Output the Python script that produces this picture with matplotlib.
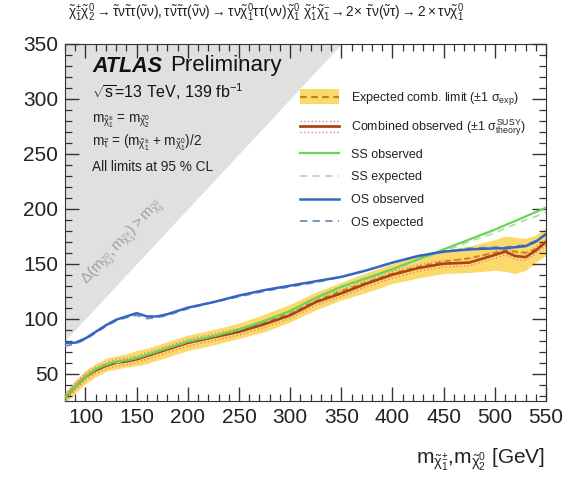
import matplotlib
matplotlib.use("Agg")
import matplotlib.pyplot as plt
from matplotlib.legend_handler import HandlerBase
from matplotlib.lines import Line2D
from matplotlib.patches import Rectangle
from matplotlib.ticker import MultipleLocator

plt.rcParams["font.family"] = ["Liberation Sans", "DejaVu Sans"]
plt.rcParams["mathtext.fontset"] = "custom"
plt.rcParams["mathtext.rm"] = "Liberation Sans"
plt.rcParams["mathtext.it"] = "Liberation Sans"
plt.rcParams["mathtext.bf"] = "Liberation Sans:bold"

# chargino / neutralino-2 mass [GeV]
mass = [80, 90, 100, 110, 120, 130, 140, 150, 160, 170, 180, 190, 200, 225, 250,
        275, 300, 325, 350, 375, 400, 425, 450, 475, 500, 510, 520, 530, 540, 550]

# LSP mass limits [GeV]
exp_comb = [28, 38, 47, 53, 58, 60, 62, 64, 66, 69, 72, 75, 78, 83, 89,
            96, 105, 116, 125, 133, 141, 147, 152, 155, 160, 162, 161, 160, 163, 170]
exp_up = [5, 6, 6, 6, 6, 6, 6, 7, 7, 7, 7, 7, 7, 7, 7,
          8, 8, 8, 8, 9, 9, 10, 10, 11, 12, 13, 13, 13, 13, 13]
exp_down = [5, 6, 6, 6, 6, 6, 6, 7, 7, 7, 7, 7, 7, 7, 7,
            8, 8, 8, 8, 9, 9, 10, 11, 13, 16, 19, 20, 16, 12, 12]
comb_obs = [28, 38, 47, 53, 57, 60, 61, 63, 66, 69, 72, 75, 78, 83, 88,
            95, 103, 115, 123, 132, 140, 146, 150, 151, 158, 161, 157, 156, 162, 170]
theory_unc = 3
ss_obs = [28, 38, 47, 54, 58, 61, 62, 64, 67, 70, 73, 76, 79, 84, 90,
          98, 107, 119, 129, 137, 145, 154, 163, 172, 181, 185, 189, 193, 197, 201]
ss_exp = [28, 38, 47, 54, 58, 60, 62, 64, 67, 70, 73, 76, 79, 84, 90,
          98, 106, 118, 128, 136, 144, 153, 161, 170, 178, 182, 186, 190, 193, 197]
os_obs = [78, 78, 82, 88, 94, 99, 102, 105, 102, 102, 104, 107, 110, 115, 121,
          126, 130, 134, 138, 144, 151, 157, 161, 163, 164, 164, 165, 166, 170, 177]
os_exp = [75, 77, 81, 87, 93, 98, 101, 103, 100, 101, 103, 106, 109, 115, 120,
          125, 129, 133, 138, 144, 151, 157, 161, 164, 165, 165, 166, 167, 171, 176]

c_band = "#fbd96a"
c_exp = "#c8820f"
c_obs = "#a9431b"
c_theo = "#e8807a"
c_ss = "#6bd15a"
c_ss_exp = "#a9e3a0"
c_os = "#3565c2"
c_os_exp = "#6d8fb6"


class BandHandler(HandlerBase):
    def create_artists(self, legend, orig_handle, xdescent, ydescent,
                       width, height, fontsize, trans):
        box = Rectangle((-xdescent, -ydescent - 2), width, height + 4,
                        facecolor=c_band, edgecolor="none", transform=trans)
        ym = height / 2 - ydescent
        line = Line2D([-xdescent, width - xdescent], [ym, ym], color=c_exp,
                      ls=(0, (3, 2)), lw=1.6, transform=trans)
        return [box, line]


class TheoryHandler(HandlerBase):
    def create_artists(self, legend, orig_handle, xdescent, ydescent,
                       width, height, fontsize, trans):
        ym = height / 2 - ydescent
        xs = [-xdescent, width - xdescent]
        out = []
        for dy in (-4, 4):
            out.append(Line2D(xs, [ym + dy] * 2, color=c_theo, ls=":", lw=1.0,
                              transform=trans))
        out.append(Line2D(xs, [ym, ym], color=c_obs, lw=2.0, transform=trans))
        return out


fig = plt.figure(figsize=(5.7, 4.84), dpi=100)
ax = fig.add_axes([65 / 570, 1 - 401 / 484, (546 - 65) / 570, (401 - 44) / 484])

ax.set_xlim(80, 550)
ax.set_ylim(25, 350)

# kinematically excluded corner
diag = [80, 350]
ax.fill_between(diag, diag, [350, 350], color="#e0e0e0", lw=0, zorder=0)
ax.text(136, 170, r"$\Delta(m_{\tilde{\chi}_2^0}, m_{\tilde{\chi}_1^{\pm}}) > m_{\tilde{\chi}_1^0}$",
        rotation=47, color="#a0a0a0", fontsize=11, ha="center", va="center")

lo = [e - d for e, d in zip(exp_comb, exp_down)]
hi = [e + u for e, u in zip(exp_comb, exp_up)]
ax.fill_between(mass, lo, hi, color=c_band, lw=0, zorder=1)
ax.plot(mass, exp_comb, color=c_exp, ls=(0, (3, 2)), lw=1.4, zorder=3)
ax.plot(mass, [v + theory_unc for v in comb_obs], color=c_theo, ls=":", lw=1.0, zorder=3)
ax.plot(mass, [v - theory_unc for v in comb_obs], color=c_theo, ls=":", lw=1.0, zorder=3)
ax.plot(mass, comb_obs, color=c_obs, lw=1.9, zorder=4)
ax.plot(mass, ss_exp, color=c_ss_exp, ls=(0, (4, 3)), lw=1.3, zorder=5)
ax.plot(mass, ss_obs, color=c_ss, lw=1.6, zorder=5)
ax.plot(mass, os_exp, color=c_os_exp, ls=(0, (4, 3)), lw=1.3, zorder=5)
ax.plot(mass, os_obs, color=c_os, lw=1.8, zorder=6)

ax.xaxis.set_major_locator(MultipleLocator(50))
ax.xaxis.set_minor_locator(MultipleLocator(10))
ax.yaxis.set_major_locator(MultipleLocator(50))
ax.yaxis.set_minor_locator(MultipleLocator(10))
ax.tick_params(which="both", direction="in", top=True, right=True, labelsize=15,
               color="#333333", labelcolor="#222222")
ax.tick_params(which="major", length=10, width=1.0, pad=5)
ax.tick_params(which="minor", length=5, width=0.9)
for s in ax.spines.values():
    s.set_color("#333333")

# legend
h_band = Line2D([], [])
h_theo = Line2D([], [])
handles = [
    h_band,
    h_theo,
    Line2D([], [], color=c_ss, lw=1.6),
    Line2D([], [], color=c_ss_exp, ls=(0, (4, 3)), lw=1.3),
    Line2D([], [], color=c_os, lw=1.8),
    Line2D([], [], color=c_os_exp, ls=(0, (4, 3)), lw=1.3),
]
labels = [
    r"Expected comb. limit ($\pm1$ $\sigma_{\mathrm{exp}}$)",
    r"Combined observed ($\pm1$ $\sigma^{\mathrm{SUSY}}_{\mathrm{theory}}$)",
    "SS observed",
    "SS expected",
    "OS observed",
    "OS expected",
]
leg = ax.legend(handles, labels, loc="upper left",
                bbox_to_anchor=(300 / 570, 1 - 90 / 484), bbox_transform=fig.transFigure,
                frameon=False, fontsize=9, handlelength=3.1, handletextpad=1.0,
                labelspacing=0.85, borderpad=0, borderaxespad=0,
                handler_map={h_band: BandHandler(), h_theo: TheoryHandler()})
for t in leg.get_texts():
    t.set_color("#222222")

# labels
fig.text(92 / 570, 1 - 66 / 484, "ATLAS", fontsize=15.5, fontweight="bold",
         fontstyle="italic", va="center", color="#111111")
fig.text(170 / 570, 1 - 66 / 484, "Preliminary", fontsize=16, va="center", color="#111111")
fig.text(92 / 570, 1 - 92 / 484, r"$\sqrt{s}$=13 TeV, 139 fb$^{-1}$", fontsize=11.5,
         va="center", color="#111111")
fig.text(92 / 570, 1 - 121 / 484, r"$m_{\tilde{\chi}_1^{\pm}}$ = $m_{\tilde{\chi}_2^0}$",
         fontsize=9.8, va="center", color="#222222")
fig.text(92 / 570, 1 - 143 / 484,
         r"$m_{\tilde{\tau}}$ = ($m_{\tilde{\chi}_1^{\pm}}$ + $m_{\tilde{\chi}_1^0}$)/2",
         fontsize=9.8, va="center", color="#222222")
fig.text(92 / 570, 1 - 167 / 484, "All limits at 95 % CL", fontsize=9.8,
         va="center", color="#222222")

fig.text(68 / 570, 1 - 13 / 484,
         r"$\tilde{\chi}_1^{\pm}\tilde{\chi}_2^0 \rightarrow \tilde{\tau}\nu\tilde{\tau}\tau(\tilde{\nu}\nu),"
         r"\tau\tilde{\nu}\tilde{\tau}\tau(\tilde{\nu}\nu) \rightarrow \tau\nu\tilde{\chi}_1^0\tau\tau(\nu\nu)\tilde{\chi}_1^0\ "
         r"\tilde{\chi}_1^{+}\tilde{\chi}_1^{-}\!\rightarrow 2\!\times\,\tilde{\tau}\nu(\tilde{\nu}\tau) \rightarrow 2\times\tau\nu\tilde{\chi}_1^0$",
         fontsize=9.8, va="center", ha="left", color="#222222")

fig.text(545 / 570, 1 - 460 / 484,
         r"$m_{\tilde{\chi}_1^{\pm}}$,$m_{\tilde{\chi}_2^0}$ [GeV]",
         fontsize=15, ha="right", va="center", color="#222222")

fig.savefig("out.png", dpi=100)
